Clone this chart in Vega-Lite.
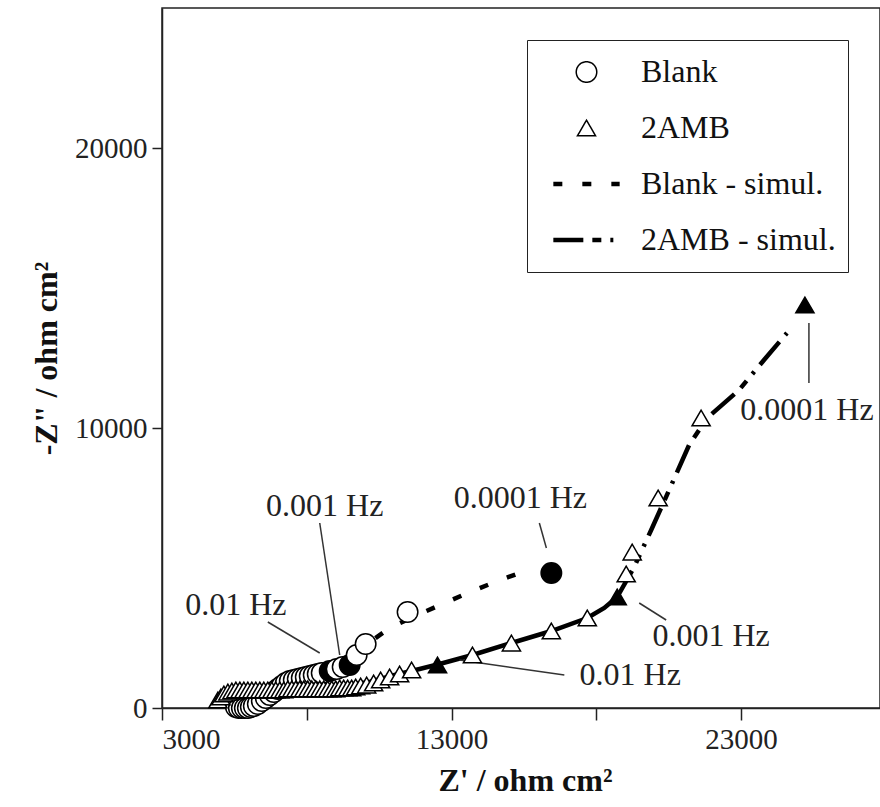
{
  "$schema": "https://vega.github.io/schema/vega-lite/v6.json",
  "width": 718,
  "height": 700,
  "autosize": {"type": "none"},
  "padding": {"left": 162, "top": 8, "right": 0, "bottom": 99},
  "background": "white",
  "datasets": {
    "points": [
      {"series": "Blank", "x": 5552, "y": 36},
      {"series": "Blank", "x": 5655, "y": 0},
      {"series": "Blank", "x": 5759, "y": 0},
      {"series": "Blank", "x": 5862, "y": 0},
      {"series": "Blank", "x": 5966, "y": 0},
      {"series": "Blank", "x": 6069, "y": 36},
      {"series": "Blank", "x": 6172, "y": 71},
      {"series": "Blank", "x": 6310, "y": 143},
      {"series": "Blank", "x": 6448, "y": 250},
      {"series": "Blank", "x": 6586, "y": 357},
      {"series": "Blank", "x": 6724, "y": 464},
      {"series": "Blank", "x": 6862, "y": 571},
      {"series": "Blank", "x": 7000, "y": 679},
      {"series": "Blank", "x": 7138, "y": 786},
      {"series": "Blank", "x": 7276, "y": 893},
      {"series": "Blank", "x": 7414, "y": 964},
      {"series": "Blank", "x": 7552, "y": 1000},
      {"series": "Blank", "x": 7690, "y": 1036},
      {"series": "Blank", "x": 7828, "y": 1071},
      {"series": "Blank", "x": 7966, "y": 1107},
      {"series": "Blank", "x": 8103, "y": 1143},
      {"series": "Blank", "x": 8241, "y": 1179},
      {"series": "Blank", "x": 8379, "y": 1214},
      {"series": "Blank", "x": 8517, "y": 1250},
      {"series": "Blank", "x": 8793, "y": 1321, "freq": "0.01 Hz"},
      {"series": "Blank", "x": 9034, "y": 1393},
      {"series": "Blank", "x": 9241, "y": 1464},
      {"series": "Blank", "x": 9483, "y": 1536, "freq": "0.001 Hz"},
      {"series": "Blank", "x": 9724, "y": 1893},
      {"series": "Blank", "x": 10034, "y": 2286},
      {"series": "Blank", "x": 11483, "y": 3429},
      {"series": "Blank", "x": 16448, "y": 4821, "freq": "0.0001 Hz"},
      {"series": "2AMB", "x": 4931, "y": 286},
      {"series": "2AMB", "x": 5034, "y": 393},
      {"series": "2AMB", "x": 5138, "y": 500},
      {"series": "2AMB", "x": 5276, "y": 571},
      {"series": "2AMB", "x": 5414, "y": 607},
      {"series": "2AMB", "x": 5552, "y": 643},
      {"series": "2AMB", "x": 5690, "y": 643},
      {"series": "2AMB", "x": 5828, "y": 643},
      {"series": "2AMB", "x": 5966, "y": 643},
      {"series": "2AMB", "x": 6103, "y": 643},
      {"series": "2AMB", "x": 6241, "y": 643},
      {"series": "2AMB", "x": 6379, "y": 643},
      {"series": "2AMB", "x": 6517, "y": 643},
      {"series": "2AMB", "x": 6655, "y": 643},
      {"series": "2AMB", "x": 6793, "y": 643},
      {"series": "2AMB", "x": 6931, "y": 643},
      {"series": "2AMB", "x": 7069, "y": 643},
      {"series": "2AMB", "x": 7207, "y": 643},
      {"series": "2AMB", "x": 7345, "y": 679},
      {"series": "2AMB", "x": 7483, "y": 679},
      {"series": "2AMB", "x": 7621, "y": 679},
      {"series": "2AMB", "x": 7759, "y": 679},
      {"series": "2AMB", "x": 7897, "y": 679},
      {"series": "2AMB", "x": 8034, "y": 679},
      {"series": "2AMB", "x": 8172, "y": 679},
      {"series": "2AMB", "x": 8310, "y": 679},
      {"series": "2AMB", "x": 8448, "y": 679},
      {"series": "2AMB", "x": 8586, "y": 679},
      {"series": "2AMB", "x": 8724, "y": 679},
      {"series": "2AMB", "x": 8862, "y": 679},
      {"series": "2AMB", "x": 9000, "y": 679},
      {"series": "2AMB", "x": 9138, "y": 714},
      {"series": "2AMB", "x": 9276, "y": 714},
      {"series": "2AMB", "x": 9414, "y": 714},
      {"series": "2AMB", "x": 9552, "y": 714},
      {"series": "2AMB", "x": 9690, "y": 750},
      {"series": "2AMB", "x": 9862, "y": 786},
      {"series": "2AMB", "x": 10069, "y": 821},
      {"series": "2AMB", "x": 10310, "y": 893},
      {"series": "2AMB", "x": 10552, "y": 1000},
      {"series": "2AMB", "x": 10862, "y": 1107},
      {"series": "2AMB", "x": 11207, "y": 1214},
      {"series": "2AMB", "x": 11621, "y": 1357},
      {"series": "2AMB", "x": 12517, "y": 1536, "freq": "0.01 Hz"},
      {"series": "2AMB", "x": 13724, "y": 1893},
      {"series": "2AMB", "x": 15069, "y": 2321},
      {"series": "2AMB", "x": 16448, "y": 2750},
      {"series": "2AMB", "x": 17690, "y": 3214},
      {"series": "2AMB", "x": 18724, "y": 3964, "freq": "0.001 Hz"},
      {"series": "2AMB", "x": 19034, "y": 4786},
      {"series": "2AMB", "x": 19241, "y": 5571},
      {"series": "2AMB", "x": 20138, "y": 7500},
      {"series": "2AMB", "x": 21621, "y": 10357},
      {"series": "2AMB", "x": 25207, "y": 14393, "freq": "0.0001 Hz"}
    ],
    "lines": [
      {"series": "Blank - simul.", "part": "dash", "i": 1, "x": 8793, "y": 1321},
      {"series": "Blank - simul.", "part": "dash", "i": 2, "x": 9483, "y": 1571},
      {"series": "Blank - simul.", "part": "dash", "i": 3, "x": 10034, "y": 2250},
      {"series": "Blank - simul.", "part": "dash", "i": 4, "x": 10862, "y": 2857},
      {"series": "Blank - simul.", "part": "dash", "i": 5, "x": 11897, "y": 3357},
      {"series": "Blank - simul.", "part": "dash", "i": 6, "x": 12759, "y": 3750},
      {"series": "Blank - simul.", "part": "dash", "i": 7, "x": 13724, "y": 4179},
      {"series": "Blank - simul.", "part": "dash", "i": 8, "x": 14586, "y": 4536},
      {"series": "Blank - simul.", "part": "dash", "i": 9, "x": 15345, "y": 4821},
      {"series": "2AMB - simul.", "part": "solid", "i": 1, "x": 7759, "y": 714},
      {"series": "2AMB - simul.", "part": "solid", "i": 2, "x": 9138, "y": 786},
      {"series": "2AMB - simul.", "part": "solid", "i": 3, "x": 10172, "y": 929},
      {"series": "2AMB - simul.", "part": "solid", "i": 4, "x": 11034, "y": 1179},
      {"series": "2AMB - simul.", "part": "solid", "i": 5, "x": 11897, "y": 1393},
      {"series": "2AMB - simul.", "part": "solid", "i": 6, "x": 12586, "y": 1571},
      {"series": "2AMB - simul.", "part": "solid", "i": 7, "x": 13724, "y": 1893},
      {"series": "2AMB - simul.", "part": "solid", "i": 8, "x": 15069, "y": 2321},
      {"series": "2AMB - simul.", "part": "solid", "i": 9, "x": 16448, "y": 2750},
      {"series": "2AMB - simul.", "part": "solid", "i": 10, "x": 17690, "y": 3214},
      {"series": "2AMB - simul.", "part": "solid", "i": 11, "x": 18276, "y": 3571},
      {"series": "2AMB - simul.", "part": "solid", "i": 12, "x": 18724, "y": 3964},
      {"series": "2AMB - simul.", "part": "dashdot", "i": 12, "x": 18724, "y": 3964},
      {"series": "2AMB - simul.", "part": "dashdot", "i": 13, "x": 19310, "y": 5036},
      {"series": "2AMB - simul.", "part": "dashdot", "i": 14, "x": 19897, "y": 6357},
      {"series": "2AMB - simul.", "part": "dashdot", "i": 15, "x": 20517, "y": 7786},
      {"series": "2AMB - simul.", "part": "dashdot", "i": 16, "x": 21207, "y": 9393},
      {"series": "2AMB - simul.", "part": "dashdot", "i": 17, "x": 21828, "y": 10357},
      {"series": "2AMB - simul.", "part": "dashdot", "i": 18, "x": 22931, "y": 11357},
      {"series": "2AMB - simul.", "part": "dashdot", "i": 19, "x": 23793, "y": 12429},
      {"series": "2AMB - simul.", "part": "dashdot", "i": 20, "x": 24586, "y": 13393}
    ],
    "notes": [
      {"label": "0.0001 Hz", "x": 15379, "y": 7500},
      {"label": "0.001 Hz", "x": 8621, "y": 7214},
      {"label": "0.01 Hz", "x": 5552, "y": 3679},
      {"label": "0.001 Hz", "x": 21966, "y": 2571},
      {"label": "0.01 Hz", "x": 19172, "y": 1179},
      {"label": "0.0001 Hz", "x": 25276, "y": 10643}
    ],
    "leaders": [
      {"x": 16034, "y": 6607, "x2": 16276, "y2": 5714},
      {"x": 8448, "y": 6607, "x2": 9138, "y2": 1893},
      {"x": 6655, "y": 3071, "x2": 8448, "y2": 1964},
      {"x": 19483, "y": 3750, "x2": 20414, "y2": 3143},
      {"x": 13276, "y": 1714, "x2": 16897, "y2": 1179},
      {"x": 25345, "y": 13750, "x2": 25345, "y2": 11607}
    ]
  },
  "encoding": {
    "x": {
      "field": "x", "type": "quantitative",
      "scale": {"domain": [3000, 27800], "nice": false, "zero": false},
      "axis": {
        "title": "Z' / ohm cm²",
        "values": [3000, 8000, 13000, 18000, 23000],
        "format": "d",
        "labelExpr": "datum.value == 8000 || datum.value == 18000 ? '' : datum.label",
        "tickSize": 12,
        "labelPadding": 5,
        "titleBaseline": "alphabetic",
        "titleY": 82,
        "titleX": 363
      }
    },
    "y": {
      "field": "y", "type": "quantitative",
      "scale": {"domain": [0, 25000], "nice": false},
      "axis": {
        "title": "-Z\" / ohm cm²",
        "values": [0, 10000, 20000],
        "format": "d",
        "tickSize": 10,
        "labelPadding": 5,
        "titleAngle": -90,
        "titleBaseline": "alphabetic",
        "titleX": -106,
        "titleY": 350
      }
    }
  },
  "layer": [
    {
      "data": {"name": "lines"},
      "transform": [{"filter": "datum.part == 'solid'"}],
      "mark": {"type": "line", "color": "black", "strokeWidth": 4.5, "strokeCap": "butt"},
      "encoding": {
        "order": {"field": "i", "type": "quantitative"}
      }
    },
    {
      "data": {"name": "lines"},
      "transform": [{"filter": "datum.part != 'solid'"}],
      "mark": {"type": "line", "color": "black", "strokeWidth": 4.5, "strokeCap": "butt"},
      "encoding": {
        "order": {"field": "i", "type": "quantitative"},
        "strokeDash": {
          "field": "series", "type": "nominal",
          "scale": {
            "domain": ["Blank", "2AMB", "Blank - simul.", "2AMB - simul."],
            "range": [[1, 0], [1, 0], [9, 20], [30, 9, 9, 9, 3, 9]]
          }
        }
      }
    },
    {
      "data": {"name": "leaders"},
      "mark": {"type": "rule", "color": "#333", "strokeWidth": 1.5},
      "encoding": {
        "x2": {"field": "x2"},
        "y2": {"field": "y2"}
      }
    },
    {
      "data": {"name": "points"},
      "mark": {"type": "point", "filled": true, "stroke": "black", "opacity": 1},
      "encoding": {
        "shape": {
          "field": "series", "type": "nominal",
          "scale": {
            "domain": ["Blank", "2AMB", "Blank - simul.", "2AMB - simul."],
            "range": ["circle", "triangle-up", "stroke", "stroke"]
          },
          "legend": {
            "orient": "none",
            "legendX": 365,
            "legendY": 32,
            "title": null,
            "strokeColor": "#222",
            "fillColor": "white",
            "padding": 12,
            "clipHeight": 40,
            "rowPadding": 16,
            "symbolOffset": 12,
            "labelOffset": 19,
            "labelFont": "Liberation Serif",
            "labelFontSize": 32,
            "labelColor": "#111",
            "labelLimit": 400,
            "encode": {
              "symbols": {
                "update": {
                  "fill": {"value": "white"},
                  "stroke": {"value": "black"},
                  "opacity": {"value": 1}
                }
              }
            }
          }
        },
        "size": {
          "field": "series", "type": "nominal",
          "scale": {
            "type": "ordinal",
            "domain": ["Blank", "2AMB", "Blank - simul.", "2AMB - simul."],
            "range": [420, 330, 4400, 4400]
          }
        },
        "strokeWidth": {
          "field": "series", "type": "nominal",
          "scale": {
            "type": "ordinal",
            "domain": ["Blank", "2AMB", "Blank - simul.", "2AMB - simul."],
            "range": [1.5, 1.5, 4.5, 4.5]
          }
        },
        "fill": {
          "condition": {"test": "datum.freq", "value": "black"},
          "value": "white"
        }
      }
    },
    {
      "data": {"name": "notes"},
      "mark": {"type": "text", "font": "Liberation Serif", "fontSize": 32, "color": "#222", "align": "center", "baseline": "middle"},
      "encoding": {
        "text": {"field": "label"}
      }
    }
  ],
  "config": {
    "font": "Liberation Serif",
    "view": {"stroke": "#222", "strokeWidth": 1.5},
    "axis": {
      "grid": false,
      "domainColor": "#222", "domainWidth": 1.5,
      "tickColor": "#222", "tickWidth": 1.5,
      "labelFont": "Liberation Serif", "labelFontSize": 29, "labelColor": "#222",
      "titleFont": "Liberation Serif", "titleFontSize": 32, "titleFontWeight": "bold", "titleColor": "#111"
    }
  }
}
